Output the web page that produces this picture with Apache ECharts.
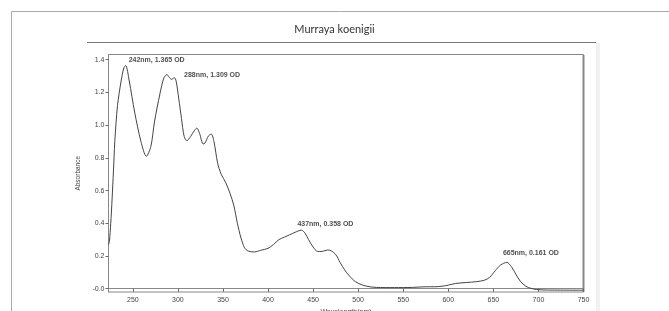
<!DOCTYPE html>
<html>
<head>
<meta charset="utf-8">
<script src="https://cdn.jsdelivr.net/npm/echarts@6/dist/echarts.min.js"></script>
<style>
  html, body { margin: 0; padding: 0; background: #fff; }
  #chart { width: 669px; height: 311px; }
</style>
</head>
<body>
<div id="chart"></div>
<script>
// spectrum
var wavelength = [223, 224, 225.5, 227, 228.5, 230, 233, 237, 240, 242, 246, 252, 259, 265, 270, 274, 280, 284.5, 288,
  290, 293, 296, 298, 301, 304, 307, 310, 314, 318, 321, 324, 328, 330, 334, 337, 340, 344, 348, 353, 358, 362,
  366, 370, 374, 378, 385, 392, 400, 406, 412, 418, 424, 430, 437, 441, 445, 450, 455, 460, 466, 470, 475, 480,
  485, 490, 497, 505, 513, 520, 540, 560, 575, 585, 594, 600, 608, 620, 631, 640, 646, 652, 658, 665, 670, 675,
  680, 686, 692, 698, 710, 750];
var absorbance = [0.27, 0.29, 0.40, 0.55, 0.72, 0.90, 1.12, 1.27, 1.35, 1.365, 1.27, 1.08, 0.90, 0.81, 0.87, 1.02, 1.19, 1.29, 1.309,
  1.295, 1.28, 1.29, 1.27, 1.16, 1.04, 0.93, 0.905, 0.93, 0.965, 0.982, 0.95, 0.885, 0.89, 0.935, 0.945, 0.90, 0.77, 0.70, 0.65, 0.58, 0.51,
  0.40, 0.31, 0.25, 0.23, 0.225, 0.235, 0.247, 0.27, 0.30, 0.315, 0.33, 0.345, 0.358, 0.34, 0.30, 0.255, 0.228, 0.228, 0.237, 0.232, 0.21, 0.16,
  0.115, 0.08, 0.043, 0.022, 0.012, 0.008, 0.007, 0.008, 0.012, 0.012, 0.016, 0.022, 0.032, 0.038, 0.043, 0.052, 0.07, 0.11, 0.145, 0.161, 0.135, 0.088,
  0.045, 0.015, 0.002, -0.005, -0.008, -0.009];

var peakNm = [242, 288, 437, 665];
var peakOd = [1.365, 1.309, 0.358, 0.161];

var xTicks = [250, 300, 350, 400, 450, 500, 550, 600, 650, 700, 750];
var yTicks = [0, 0.2, 0.4, 0.6, 0.8, 1.0, 1.2, 1.4];

var chart = echarts.init(document.getElementById('chart'));

var line = wavelength.map(function (w, i) { return [w, absorbance[i]]; });

// where each peak label sits relative to its peak
var labelOffsets = [[3, -5], [17, 0], [-4, -6], [-4, -9]];
var peaks = peakNm.map(function (w, i) {
  return {
    value: [w, peakOd[i]],
    label: { offset: labelOffsets[i] }
  };
});

var tickFont = { fontFamily: 'Liberation Sans', fontSize: 7, color: '#444' };

chart.setOption({
  animation: false,
  title: {
    text: 'Murraya koenigii',
    left: 'center',
    top: 19,
    textStyle: { fontFamily: 'Lato', fontSize: 11, fontWeight: 'normal', color: '#333' }
  },
  graphic: [
    { type: 'line', shape: { x1: 11.5, y1: 11.5, x2: 669, y2: 11.5 }, style: { stroke: '#aaa', lineWidth: 1 } },
    { type: 'line', shape: { x1: 11.5, y1: 11.5, x2: 11.5, y2: 311 }, style: { stroke: '#aaa', lineWidth: 1 } },
    { type: 'line', shape: { x1: 87, y1: 42.5, x2: 596, y2: 42.5 }, style: { stroke: '#777', lineWidth: 1 } },
    { type: 'rect', shape: { x: 596, y: 43, width: 4, height: 268 }, style: { fill: '#f1f1f1' } },
    { type: 'line', shape: { x1: 583.5, y1: 55, x2: 583.5, y2: 292 }, style: { stroke: '#888', lineWidth: 2 } }
  ],
  grid: {
    left: 108.5, top: 54.5, width: 475, height: 237.5,
    outerBoundsMode: 'none',
    containLabel: false,
    show: true, borderColor: '#888', borderWidth: 1, backgroundColor: '#fff'
  },
  xAxis: {
    type: 'value',
    min: 223, max: 750,
    name: 'Wavelength(nm)',
    nameLocation: 'middle',
    nameGap: 17,
    nameTextStyle: tickFont,
    axisLine: { lineStyle: { color: '#888' } },
    axisTick: { length: 3, lineStyle: { color: '#666' }, customValues: xTicks },
    axisLabel: Object.assign({ margin: 5, customValues: xTicks }, tickFont),
    splitLine: { show: false }
  },
  yAxis: {
    type: 'value',
    min: -0.02, max: 1.432,
    name: 'Absorbance',
    nameLocation: 'middle',
    nameGap: 20,
    nameTextStyle: Object.assign({}, tickFont, { fontSize: 6.5 }),
    axisLine: { show: true, lineStyle: { color: '#888' } },
    axisTick: { show: true, length: 3, lineStyle: { color: '#666' }, customValues: yTicks },
    axisLabel: Object.assign({
      margin: 4,
      customValues: yTicks,
      formatter: function (v) { return v === 0 ? '-0.0' : v.toFixed(1); }
    }, tickFont),
    splitLine: { show: false }
  },
  series: [
    {
      type: 'line',
      data: line,
      smooth: 0.3,
      showSymbol: false,
      lineStyle: { color: '#444', width: 1 }
    },
    {
      type: 'scatter',
      data: peaks,
      symbolSize: 0,
      label: {
        show: true,
        position: 'right',
        distance: 0,
        formatter: function (p) { return p.value[0] + 'nm, ' + p.value[1].toFixed(3) + ' OD'; },
        fontFamily: 'Liberation Sans',
        fontSize: 7,
        fontWeight: 'bold',
        color: '#222'
      }
    }
  ]
});
</script>
</body>
</html>
